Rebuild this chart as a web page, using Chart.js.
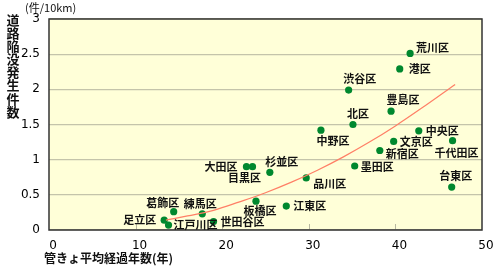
<!DOCTYPE html>
<html>
<head>
<meta charset="utf-8">
<script src="https://cdn.jsdelivr.net/npm/chart.js"></script>
<style>
  body { margin: 0; background: #fff; }
  #chart { display: block; }
</style>
</head>
<body>
<canvas id="chart" width="500" height="266"></canvas>
<script>
// Ward names and values
const wards = ['荒川区', '港区', '渋谷区', '豊島区', '北区', '中野区', '中央区', '文京区',
  '千代田区', '新宿区', '杉並区', '墨田区', '品川区', '台東区', '板橋区', '江東区',
  '目黒区', '大田区', '葛飾区', '練馬区', '足立区', '江戸川区', '世田谷区'];
const pipeAge = [41.7, 40.5, 34.6, 39.5, 35.1, 31.4, 42.7, 39.8,
  46.6, 38.2, 25.5, 35.3, 29.7, 46.5, 23.9, 27.4,
  23.5, 22.8, 14.4, 17.7, 13.3, 13.8, 19.0];
const collapses = [2.51, 2.29, 1.99, 1.69, 1.50, 1.42, 1.41, 1.26,
  1.27, 1.13, 0.82, 0.91, 0.74, 0.61, 0.41, 0.34,
  0.90, 0.90, 0.26, 0.23, 0.14, 0.07, 0.12];

// Trend curve, points
const trendX = [13.5, 16, 19, 22, 25, 28, 31, 34, 37, 40, 43, 46.9];
const trendY = [0.14, 0.20, 0.28, 0.40, 0.53, 0.68, 0.85, 1.04, 1.25, 1.48, 1.73, 2.07];

// Tick labels
const xTickLabels = ['0', '10', '20', '30', '40', '50'];
const yTickLabels = ['0', '0.5', '1', '1.5', '2', '2.5', '3'];

// label placement next to each point: [textAlign, dx, dy]
const labelPlace = [
  ['left', 6, -6], ['left', 9, 0], ['center', 11, -11], ['center', 12, -11],
  ['center', 5, -11], ['center', 12, 11], ['left', 7, 0], ['left', 6, 0],
  ['center', 4, 12], ['left', 6, 3], ['center', 12, -11], ['left', 6, 1],
  ['left', 7, 6], ['center', 4, -11], ['center', 4, 10], ['left', 7, 0],
  ['center', -8, 11], ['right', -9, 0], ['center', -11, -9], ['center', -2, -10],
  ['right', -8, 0], ['left', 5, 0], ['left', 7, 0]
];

const jpFont = '"Noto Sans CJK JP", "Noto Sans", sans-serif';

const chartDecor = {
  id: 'chartDecor',
  beforeDraw(chart) {
    const { ctx, chartArea: a } = chart;
    ctx.save();
    ctx.fillStyle = '#ffffd8';
    ctx.fillRect(a.left, a.top, a.right - a.left, a.bottom - a.top);
    ctx.restore();
  },
  beforeDatasetsDraw(chart) {
    const { ctx, chartArea: a, scales } = chart;
    ctx.save();
    // small inner ticks on the x axis
    ctx.strokeStyle = '#b8b8a0';
    ctx.lineWidth = 1;
    [10, 20, 30, 40].forEach(v => {
      const px = Math.round(scales.x.getPixelForValue(v)) + 0.5;
      ctx.beginPath();
      ctx.moveTo(px, a.bottom);
      ctx.lineTo(px, a.bottom - 6);
      ctx.stroke();
    });
    // frame
    ctx.strokeStyle = '#333';
    ctx.lineWidth = 1.5;
    ctx.strokeRect(a.left, a.top, a.right - a.left, a.bottom - a.top);
    ctx.restore();
  },
  afterDatasetsDraw(chart) {
    const { ctx, scales } = chart;
    ctx.save();
    ctx.fillStyle = '#111';
    ctx.font = 'bold 11px ' + jpFont;
    ctx.textBaseline = 'middle';
    wards.forEach((name, i) => {
      const [align, dx, dy] = labelPlace[i];
      const px = scales.x.getPixelForValue(pipeAge[i]);
      const py = scales.y.getPixelForValue(collapses[i]);
      ctx.textAlign = align;
      ctx.fillText(name, px + dx, py + dy);
    });

    // axis titles
    ctx.font = 'bold 13px ' + jpFont;
    ctx.textAlign = 'center';
    const yTitle = '道路陥没発生件数';
    [...yTitle].forEach((ch, i) => ctx.fillText(ch, 13, 20 + i * 13.1));
    ctx.font = '11px ' + jpFont;
    ctx.textAlign = 'left';
    ctx.fillText('(件/10km)', 25, 8);
    ctx.font = 'bold 12px ' + jpFont;
    ctx.fillText('管きょ平均経過年数(年)', 44, 258);
    ctx.restore();
  }
};

new Chart(document.getElementById('chart'), {
  type: 'scatter',
  data: {
    datasets: [
      {
        type: 'line',
        data: trendX.map((x, i) => ({ x, y: trendY[i] })),
        borderColor: '#ff7f66',
        borderWidth: 1.2,
        pointRadius: 0,
        tension: 0.4,
        fill: false
      },
      {
        data: pipeAge.map((x, i) => ({ x, y: collapses[i] })),
        backgroundColor: '#00882e',
        borderColor: '#00882e',
        borderWidth: 0,
        pointRadius: 3.6
      }
    ]
  },
  options: {
    responsive: false,
    animation: false,
    devicePixelRatio: 1,
    layout: { padding: { top: 19, right: 18, left: 0, bottom: 0 } },
    plugins: { legend: { display: false }, tooltip: { enabled: false } },
    scales: {
      x: {
        type: 'linear',
        min: 0, max: 50,
        afterFit: s => { s.height = 36; },
        grid: { display: false },
        border: { display: false },
        ticks: {
          stepSize: 10,
          padding: 1,
          labelOffset: 4,
          color: '#000',
          font: { family: '"DejaVu Sans", sans-serif', size: 12 },
          callback: v => xTickLabels[v / 10]
        }
      },
      y: {
        min: 0, max: 3,
        afterFit: s => { s.width = 49; },
        grid: { color: '#c4c4aa', drawTicks: false, lineWidth: 1.2 },
        border: { display: false },
        ticks: {
          stepSize: 0.5,
          padding: 9,
          color: '#000',
          font: { family: '"DejaVu Sans", sans-serif', size: 12 },
          callback: v => yTickLabels[Math.round(v * 2)]
        }
      }
    }
  },
  plugins: [chartDecor]
});
</script>
</body>
</html>
